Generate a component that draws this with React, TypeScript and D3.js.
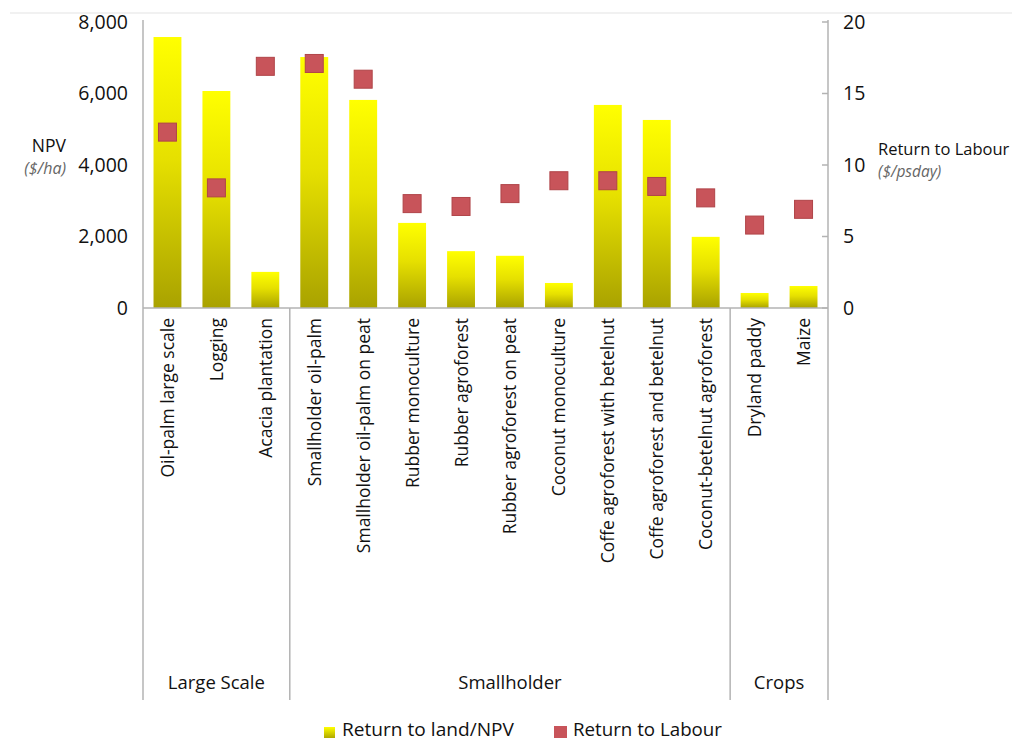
import React from "react";
import * as d3 from "d3";

const categories = [
  "Oil-palm large scale",
  "Logging",
  "Acacia plantation",
  "Smallholder oil-palm",
  "Smallholder oil-palm on peat",
  "Rubber monoculture",
  "Rubber agroforest",
  "Rubber agroforest on peat",
  "Coconut monoculture",
  "Coffe agroforest with betelnut",
  "Coffe agroforest and betelnut",
  "Coconut-betelnut agroforest",
  "Dryland paddy",
  "Maize",
];
const npvValues = [7580, 6070, 1010, 7020, 5820, 2380, 1590, 1460, 700, 5680, 5260, 1990, 420, 615];
const labourValues = [12.3, 8.4, 16.9, 17.1, 16.0, 7.3, 7.1, 8.0, 8.9, 8.9, 8.5, 7.7, 5.8, 6.9];
const groups = [
  { name: "Large Scale", start: 0, end: 3 },
  { name: "Smallholder", start: 3, end: 12 },
  { name: "Crops", start: 12, end: 14 },
];
const leftTicks = [0, 2000, 4000, 6000, 8000];
const rightTicks = [0, 5, 10, 15, 20];
const legendItems = ["Return to land/NPV", "Return to Labour"];

const W = 1012;
const H = 742;
const left = 143;
const right = 828;
const top = 22;
const bottom = 308;
const groupBottom = 700;
const FONT = "'Open Sans', 'Noto Sans', sans-serif";

export default function App() {
  const x = d3.scaleBand<string>().domain(categories).range([left, right]).paddingInner(0.43).paddingOuter(0.215);
  const step = (right - left) / categories.length;
  const yL = d3.scaleLinear().domain([0, 8000]).range([bottom, top]);
  const yR = d3.scaleLinear().domain([0, 20]).range([bottom, top]);
  const fmt = d3.format(",");
  const sq = 18;

  return (
    <svg width={W} height={H} style={{ position: "absolute", left: 0, top: 0, background: "#fff" }} fontFamily={FONT}>
      <defs>
        <linearGradient id="barGrad" x1="0" y1="0" x2="0" y2="1">
          <stop offset="0" stopColor="#ffff00" />
          <stop offset="0.45" stopColor="#e6e000" />
          <stop offset="1" stopColor="#a9a200" />
        </linearGradient>
        <linearGradient id="legGrad" x1="0" y1="0" x2="0" y2="1">
          <stop offset="0" stopColor="#ffff00" />
          <stop offset="1" stopColor="#b0a800" />
        </linearGradient>
      </defs>
      <line x1={10} x2={W} y1={13} y2={13} stroke="#ececec" strokeWidth={1.5} />

      {/* bars */}
      {categories.map((c, i) => (
        <rect key={c} x={x(c)} width={x.bandwidth()} y={yL(npvValues[i])} height={bottom - yL(npvValues[i])} fill="url(#barGrad)" />
      ))}

      {/* axes */}
      <line x1={left} x2={right} y1={bottom} y2={bottom} stroke="#b3b3b3" strokeWidth={1.5} />
      <line x1={left} x2={left} y1={top - 2} y2={groupBottom} stroke="#b3b3b3" strokeWidth={1.5} />
      <line x1={right} x2={right} y1={top - 2} y2={groupBottom} stroke="#b3b3b3" strokeWidth={1.5} />
      {groups.slice(1).map((g) => (
        <line key={g.name} x1={left + g.start * step} x2={left + g.start * step} y1={bottom} y2={groupBottom} stroke="#b3b3b3" strokeWidth={1.5} />
      ))}

      {leftTicks.map((t) => (
        <text key={t} x={128} y={yL(t)} dy="0.35em" textAnchor="end" fontSize={19.5} fill="#111">{fmt(t)}</text>
      ))}
      {rightTicks.map((t) => (
        <g key={t}>
          <line x1={right - 6} x2={right} y1={yR(t)} y2={yR(t)} stroke="#b3b3b3" strokeWidth={1.5} />
          <text x={843} y={yR(t)} dy="0.35em" textAnchor="start" fontSize={19.5} fill="#111">{t}</text>
        </g>
      ))}

      {/* labour markers */}
      {categories.map((c, i) => (
        <rect key={c} x={(x(c) as number) + x.bandwidth() / 2 - sq / 2} y={yR(labourValues[i]) - sq / 2} width={sq} height={sq} fill="#c8545a" stroke="#b04448" strokeWidth={1} />
      ))}

      {/* category labels */}
      {categories.map((c) => {
        const cx = (x(c) as number) + x.bandwidth() / 2;
        return (
          <text key={c} transform={`translate(${cx + 6.5},318) rotate(-90)`} textAnchor="end" fontSize={17.5} fill="#111">{c}</text>
        );
      })}

      {/* group labels */}
      {groups.map((g) => (
        <text key={g.name} x={left + ((g.start + g.end) / 2) * step} y={689} textAnchor="middle" fontSize={18.5} fill="#111">{g.name}</text>
      ))}

      {/* axis titles */}
      <text x={66} y={152} textAnchor="end" fontSize={17.5} fill="#111">NPV</text>
      <text x={66} y={174} textAnchor="end" fontSize={16} fontStyle="italic" fill="#666">($/ha)</text>
      <text x={878} y={155} fontSize={16.5} fill="#111">Return to Labour</text>
      <text x={878} y={177} fontSize={15.5} fontStyle="italic" fill="#666">($/psday)</text>

      {/* legend */}
      <rect x={324} y={727} width={11} height={11} fill="url(#legGrad)" />
      <text x={342} y={736} fontSize={18} fill="#111" textLength={172} lengthAdjust="spacingAndGlyphs">{legendItems[0]}</text>
      <rect x={554} y={726} width={13} height={12} fill="#c8545a" />
      <text x={573} y={736} fontSize={18} fill="#111" textLength={149} lengthAdjust="spacingAndGlyphs">{legendItems[1]}</text>
    </svg>
  );
}
